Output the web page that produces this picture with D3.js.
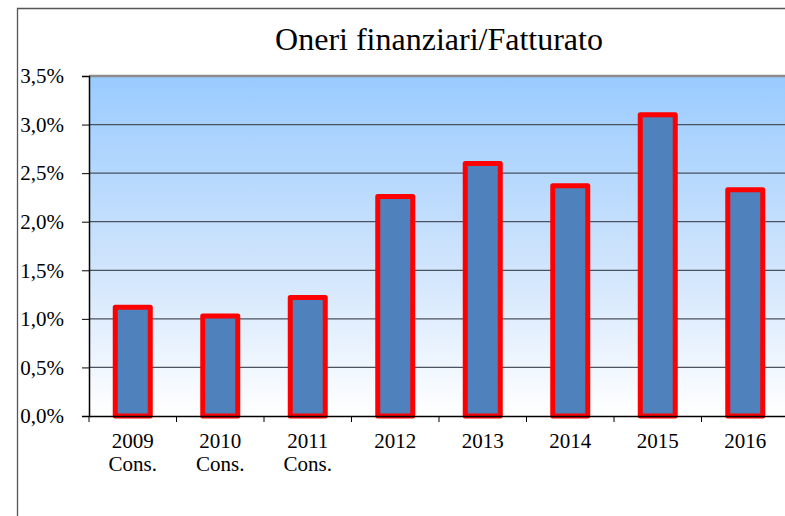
<!DOCTYPE html>
<html>
<head>
<meta charset="utf-8">
<script src="https://cdn.jsdelivr.net/npm/d3@7"></script>
<style>
  html, body { margin: 0; padding: 0; background: #fff; overflow: hidden; }
  svg { display: block; font-family: "Liberation Serif", "Times New Roman", serif; }
</style>
</head>
<body>
<div id="chart"></div>
<script>
"use strict";

const years = ["2009", "2010", "2011", "2012", "2013", "2014", "2015", "2016"];
const subLabels = ["Cons.", "Cons.", "Cons.", "", "", "", "", ""];
const ratios = [1.12, 1.03, 1.22, 2.26, 2.60, 2.37, 3.10, 2.33];
const yTicks = [0, 0.5, 1, 1.5, 2, 2.5, 3, 3.5];

function draw() {
  const w = 785, h = 516;
  const left = 89, right = 789, top = 76, bottom = 416;

  const data = years.map((y, i) => ({ year: y, sub: subLabels[i], value: ratios[i] }));

  const x = d3.scaleBand()
    .domain(years)
    .range([left, right])
    .paddingInner(0.6)
    .paddingOuter(0.3);

  const band = d3.scaleBand().domain(years).range([left, right]);

  const y = d3.scaleLinear()
    .domain([0, 3.5])
    .range([bottom, top]);

  const svg = d3.select("#chart")
    .append("svg")
    .attr("width", w)
    .attr("height", h);

  // outer chart frame
  svg.append("path")
    .attr("d", `M17.5,${h} V8.5 H${w}`)
    .attr("fill", "none")
    .attr("stroke", "#555")
    .attr("stroke-width", 1.3);

  const grad = svg.append("defs").append("linearGradient")
    .attr("id", "bg")
    .attr("x1", 0).attr("y1", 0).attr("x2", 0).attr("y2", 1);
  grad.append("stop").attr("offset", "0%").attr("stop-color", "#99cbff");
  grad.append("stop").attr("offset", "55%").attr("stop-color", "#cfe4fc");
  grad.append("stop").attr("offset", "100%").attr("stop-color", "#ffffff");

  svg.append("rect")
    .attr("x", left).attr("y", top)
    .attr("width", right - left).attr("height", bottom - top)
    .attr("fill", "url(#bg)");

  svg.append("text")
    .attr("x", 439)
    .attr("y", 50)
    .attr("text-anchor", "middle")
    .attr("font-size", 32)
    .text("Oneri finanziari/Fatturato");

  // gridlines
  svg.append("g")
    .selectAll("line")
    .data(yTicks.filter(t => t > 0 && t < 3.5))
    .enter()
    .append("line")
    .attr("x1", left).attr("x2", right)
    .attr("y1", d => y(d)).attr("y2", d => y(d))
    .attr("stroke", "#4a5260")
    .attr("stroke-width", 1.3);

  svg.append("line")
    .attr("x1", left).attr("x2", right)
    .attr("y1", y(3.5)).attr("y2", y(3.5))
    .attr("stroke", "#8c8c8c")
    .attr("stroke-width", 2.5);

  // bars
  svg.append("g")
    .selectAll("rect")
    .data(data)
    .enter()
    .append("rect")
    .attr("x", d => x(d.year))
    .attr("width", x.bandwidth())
    .attr("y", d => y(d.value))
    .attr("height", d => y(0) - y(d.value))
    .attr("fill", "#4f81bd")
    .attr("stroke", "#ff0000")
    .attr("stroke-width", 5)
    .attr("stroke-linejoin", "round");

  // y axis
  const yAxis = svg.append("g")
    .attr("transform", `translate(${left},0)`)
    .call(d3.axisLeft(y)
      .tickValues(yTicks)
      .tickSize(7)
      .tickPadding(18)
      .tickFormat(d => d3.format(".1f")(d).replace(".", ",") + "%"));
  yAxis.select(".domain").attr("stroke", "#000").attr("stroke-width", 1.5);
  yAxis.selectAll(".tick line").attr("stroke", "#000");
  yAxis.selectAll("text")
    .attr("font-family", "Liberation Serif, serif")
    .attr("font-size", 21)
    .attr("fill", "#000");

  // x axis
  const xAxis = svg.append("g")
    .attr("transform", `translate(0,${bottom})`)
    .call(d3.axisBottom(band).tickSize(0).tickFormat(""));
  xAxis.select(".domain").attr("stroke", "#000").attr("stroke-width", 1.5);

  xAxis.selectAll(".sep")
    .data(years)
    .enter()
    .append("line")
    .attr("class", "sep")
    .attr("x1", d => band(d)).attr("x2", d => band(d))
    .attr("y1", 0).attr("y2", 6)
    .attr("stroke", "#000");

  const labels = svg.append("g")
    .selectAll("text")
    .data(data)
    .enter()
    .append("text")
    .attr("x", d => band(d.year) + band.bandwidth() / 2)
    .attr("y", 448)
    .attr("text-anchor", "middle")
    .attr("font-size", 21);
  labels.append("tspan").text(d => d.year);
  labels.append("tspan")
    .attr("x", d => band(d.year) + band.bandwidth() / 2)
    .attr("dy", 23)
    .text(d => d.sub);
}

draw();
</script>
</body>
</html>
